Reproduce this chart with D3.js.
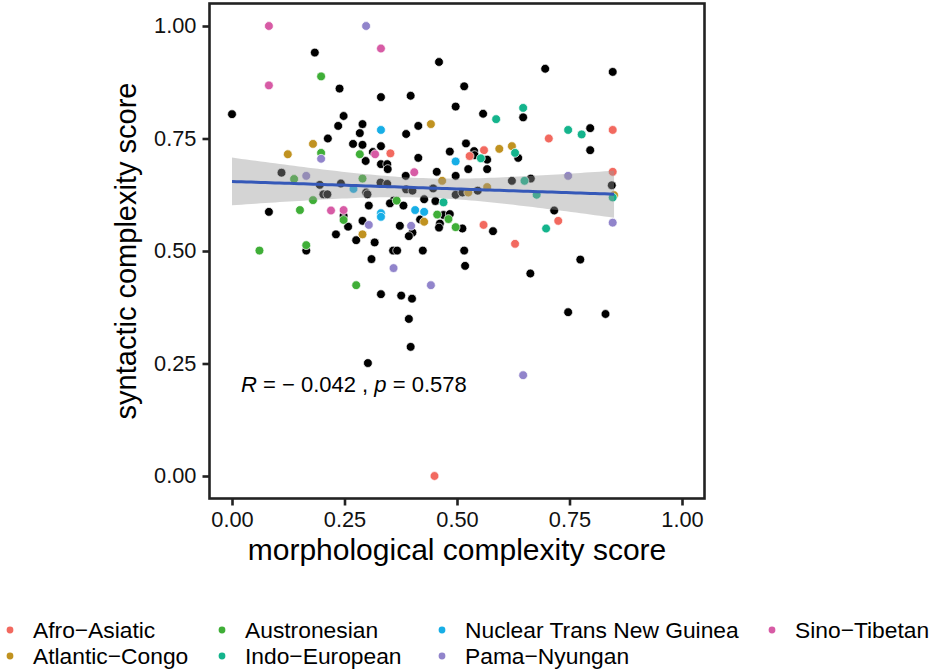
<!DOCTYPE html>
<html>
<head>
<meta charset="utf-8">
<script src="https://cdn.jsdelivr.net/npm/d3@7"></script>
<style>
  html, body { margin: 0; padding: 0; background: #fff; }
  svg { display: block; font-family: "Liberation Sans", Arial, sans-serif; }
</style>
</head>
<body>
<svg id="chart" width="935" height="671"></svg>
<script>
// ---------------- data ----------------
const families = ["Afro\u2212Asiatic", "Atlantic\u2212Congo", "Austronesian", "Indo\u2212European",
                  "Nuclear Trans New Guinea", "Pama\u2212Nyungan", "Sino\u2212Tibetan"];
const familyColors = ["#F2695F", "#C09220", "#3FAE37", "#14B48C", "#17AEE6", "#9184CB", "#D75BA5"];

const afroAsiatic = [[0.352,0.717],[0.704,0.750],[0.846,0.769],[0.560,0.724],[0.528,0.711],[0.846,0.676],
  [0.725,0.567],[0.559,0.558],[0.629,0.516],[0.450,0.000]];
const atlanticCongo = [[0.442,0.782],[0.180,0.738],[0.124,0.715],[0.594,0.727],[0.622,0.733],[0.467,0.656],
  [0.525,0.630],[0.567,0.642],[0.427,0.565],[0.290,0.537],[0.849,0.624]];
const austronesian = [[0.198,0.888],[0.198,0.718],[0.284,0.715],[0.138,0.660],[0.290,0.661],[0.366,0.612],
  [0.151,0.591],[0.180,0.613],[0.248,0.569],[0.456,0.581],[0.481,0.571],[0.497,0.553],[0.061,0.501],
  [0.165,0.513],[0.276,0.424]];
const indoEuropean = [[0.647,0.818],[0.587,0.793],[0.747,0.769],[0.777,0.759],[0.629,0.718],[0.553,0.706],
  [0.650,0.656],[0.846,0.619],[0.677,0.625],[0.470,0.608],[0.698,0.550]];
const nuclearTNG = [[0.331,0.769],[0.497,0.699],[0.270,0.638],[0.407,0.591],[0.427,0.587],[0.331,0.584],
  [0.331,0.576]];
const pamaNyungan = [[0.298,1.000],[0.198,0.705],[0.165,0.667],[0.747,0.667],[0.304,0.558],[0.398,0.556],
  [0.846,0.563],[0.359,0.462],[0.442,0.424],[0.647,0.224]];
const sinoTibetan = [[0.082,1.000],[0.331,0.950],[0.082,0.868],[0.318,0.715],[0.405,0.675],[0.220,0.590],
  [0.248,0.591]];
const otherLanguages = [
  [0.184,0.941],[0.460,0.920],[0.239,0.861],[0.331,0.842],[0.397,0.845],[0.000,0.804],[0.248,0.800],
  [0.236,0.778],[0.290,0.782],[0.414,0.778],[0.284,0.762],[0.387,0.760],[0.213,0.750],[0.269,0.738],
  [0.290,0.736],[0.331,0.733],[0.484,0.721],[0.313,0.720],[0.414,0.707],[0.297,0.700],[0.331,0.693],
  [0.345,0.693],[0.346,0.682],[0.696,0.905],[0.846,0.898],[0.516,0.866],[0.497,0.821],[0.558,0.805],
  [0.647,0.797],[0.796,0.773],[0.796,0.724],[0.520,0.739],[0.538,0.722],[0.539,0.713],[0.636,0.707],
  [0.567,0.703],[0.525,0.682],[0.567,0.682],[0.497,0.667],[0.844,0.646],[0.622,0.656],[0.664,0.661],
  [0.497,0.625],[0.512,0.630],[0.546,0.634],[0.716,0.590],[0.580,0.544],[0.470,0.580],[0.484,0.582],
  [0.462,0.561],[0.460,0.552],[0.512,0.550],[0.516,0.501],[0.518,0.467],[0.774,0.481],[0.663,0.450],
  [0.747,0.364],[0.830,0.360],[0.110,0.674],[0.195,0.647],[0.242,0.650],[0.203,0.626],[0.212,0.626],
  [0.298,0.630],[0.301,0.626],[0.330,0.652],[0.345,0.649],[0.386,0.667],[0.455,0.676],[0.387,0.637],
  [0.401,0.634],[0.447,0.639],[0.427,0.615],[0.452,0.611],[0.359,0.612],[0.351,0.606],[0.304,0.601],
  [0.381,0.601],[0.082,0.587],[0.248,0.578],[0.290,0.567],[0.258,0.554],[0.373,0.556],[0.401,0.541],
  [0.393,0.533],[0.418,0.570],[0.231,0.537],[0.276,0.524],[0.317,0.519],[0.165,0.501],[0.358,0.501],
  [0.367,0.501],[0.424,0.501],[0.310,0.482],[0.331,0.404],[0.376,0.401],[0.400,0.394],[0.393,0.349],
  [0.397,0.287],[0.302,0.251]];
const familySeries = [afroAsiatic, atlanticCongo, austronesian, indoEuropean, nuclearTNG, pamaNyungan, sinoTibetan];
const tickValues = [0, 0.25, 0.5, 0.75, 1];
const xTitle = "morphological complexity score";
const yTitle = "syntactic complexity score";

// ---------------- layout ----------------
const svg = d3.select("#chart");
const x = d3.scaleLinear().domain([-0.05, 1.05]).range([209.5, 704.5]);
const y = d3.scaleLinear().domain([-0.05, 1.05]).range([498.5, 3.5]);
const fmt = d3.format(".2f");
const R = 4.4;

// points: other languages first, then families
const ptsG = svg.append("g");
ptsG.selectAll("circle.other").data(otherLanguages).join("circle")
  .attr("cx", d => x(d[0])).attr("cy", d => y(d[1])).attr("r", R)
  .attr("fill", "#000").attr("stroke", "#fff").attr("stroke-width", 0.7);
familySeries.forEach((arr, i) => {
  ptsG.selectAll("circle.f" + i).data(arr).join("circle")
    .attr("cx", d => x(d[0])).attr("cy", d => y(d[1])).attr("r", R)
    .attr("fill", familyColors[i]).attr("stroke", "#fff").attr("stroke-width", 0.7);
});

// linear fit with 95% CI
const all = otherLanguages.concat(...familySeries);
const n = all.length;
const mx = d3.mean(all, d => d[0]), my = d3.mean(all, d => d[1]);
const sxx = d3.sum(all, d => (d[0] - mx) ** 2);
const sxy = d3.sum(all, d => (d[0] - mx) * (d[1] - my));
const b = sxy / sxx, a = my - b * mx;
const s = Math.sqrt(d3.sum(all, d => (d[1] - a - b * d[0]) ** 2) / (n - 2));
const tq = 1.96 + 2.4 / (n - 2);
const [xmin, xmax] = d3.extent(all, d => d[0]);
const grid = d3.range(0, 81).map(k => xmin + (xmax - xmin) * k / 80);
const band = grid.map(g => {
  const fit = a + b * g;
  const se = s * Math.sqrt(1 / n + (g - mx) ** 2 / sxx);
  return { g, fit, lo: fit - tq * se, hi: fit + tq * se };
});
svg.append("path").datum(band)
  .attr("d", d3.area().x(d => x(d.g)).y0(d => y(d.lo)).y1(d => y(d.hi)))
  .attr("fill", "#999999").attr("fill-opacity", 0.42);
svg.append("path").datum(band)
  .attr("d", d3.line().x(d => x(d.g)).y(d => y(d.fit)))
  .attr("fill", "none").attr("stroke", "#3558B8").attr("stroke-width", 3);

// annotation
const ann = svg.append("text").attr("x", 241).attr("y", 392)
  .attr("font-size", 22).attr("fill", "#000");
ann.append("tspan").attr("font-style", "italic").text("R");
ann.append("tspan").text(" = \u2212 0.042 , ");
ann.append("tspan").attr("font-style", "italic").text("p");
ann.append("tspan").text(" = 0.578");

// panel border
svg.append("rect").attr("x", 209.5).attr("y", 3.5).attr("width", 495).attr("height", 495)
  .attr("fill", "none").attr("stroke", "#222").attr("stroke-width", 2.6);

// axes
const xAxis = svg.append("g").attr("transform", "translate(0,498.5)")
  .call(d3.axisBottom(x).tickValues(tickValues).tickFormat(fmt).tickSize(7).tickPadding(6));
const yAxis = svg.append("g").attr("transform", "translate(209.5,0)")
  .call(d3.axisLeft(y).tickValues(tickValues).tickFormat(fmt).tickSize(7).tickPadding(6));
[xAxis, yAxis].forEach(g => {
  g.select(".domain").remove();
  g.selectAll(".tick line").attr("stroke", "#222").attr("stroke-width", 2.6);
  g.selectAll(".tick text").attr("font-size", 21.8).attr("fill", "#111")
    .attr("font-family", "'Liberation Sans', Arial, sans-serif");
});

// axis titles
svg.append("text").attr("x", x(0.5)).attr("y", 560).attr("text-anchor", "middle")
  .attr("font-size", 30).attr("fill", "#000").text(xTitle);
svg.append("text").attr("transform", `translate(136,${y(0.5)}) rotate(-90)`)
  .attr("text-anchor", "middle").attr("font-size", 29).attr("fill", "#000").text(yTitle);

// legend
const legendCols = [10, 222, 442, 772];
const legendRows = [630, 656];
const legendPos = [[0,0],[0,1],[1,0],[1,1],[2,0],[2,1],[3,0]];
families.forEach((f, i) => {
  const [c, r] = legendPos[i];
  const g = svg.append("g").attr("transform", `translate(${legendCols[c]},${legendRows[r]})`);
  g.append("circle").attr("r", 3.4).attr("fill", familyColors[i]);
  g.append("text").attr("x", 23).attr("y", 0).attr("dy", "0.35em")
    .attr("font-size", 22.8).attr("fill", "#000").text(f);
});
</script>
</body>
</html>
